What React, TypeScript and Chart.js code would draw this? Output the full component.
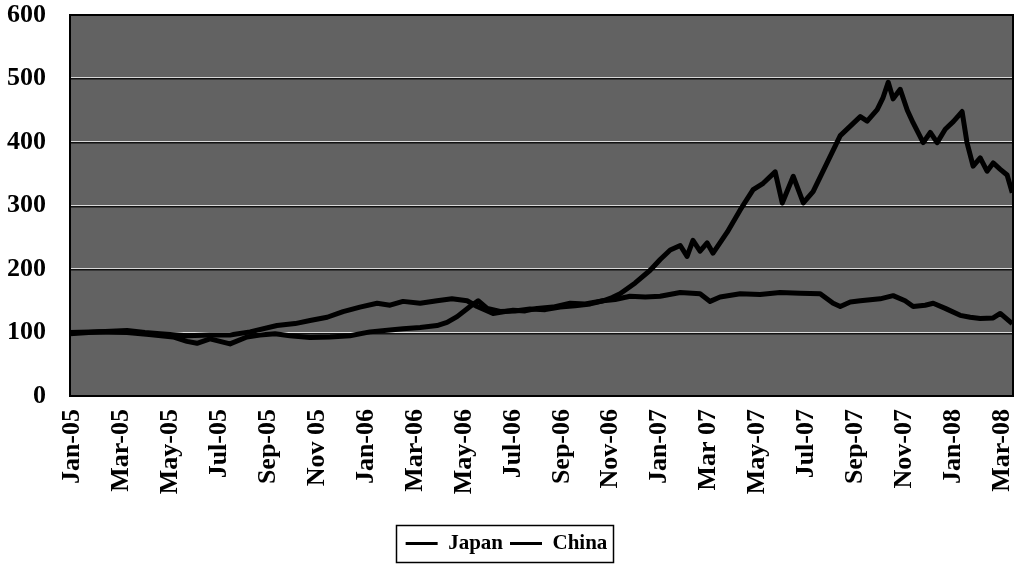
import React, { useEffect, useRef } from "react";
import { Chart, registerables } from "chart.js";

Chart.register(...registerables);

// x positions are months since Jan-05 (0 = Jan-05)
const tickMonths = [0, 2, 4, 6, 8, 10, 12, 14, 16, 18, 20, 22, 24, 26, 28, 30, 32, 34, 36, 38];
const tickLabels = [
  "Jan-05", "Mar-05", "May-05", "Jul-05", "Sep-05", "Nov 05", "Jan-06", "Mar-06", "May-06", "Jul-06",
  "Sep-06", "Nov-06", "Jan-07", "Mar 07", "May-07", "Jul-07", "Sep-07", "Nov-07", "Jan-08", "Mar-08",
];
const yTicks = [0, 100, 200, 300, 400, 500, 600];

const japanMonths = [
  -0.1, 1.12, 2.23, 2.96, 3.58, 4.68, 5.62, 6.44, 7.26, 8.36, 9.1, 9.71, 10.41, 11.06, 11.75, 12.45,
  12.98, 13.51, 14.21, 14.9, 15.51, 16.13, 16.54, 17.19, 17.68, 18.01, 18.5, 18.99, 19.64, 20.34, 20.95,
  21.69, 22.18, 22.79, 23.41, 24.02, 24.84, 25.65, 26.06, 26.47, 27.29, 28.1, 28.92, 29.74, 30.56, 31.09,
  31.38, 31.79, 32.2, 33.01, 33.54, 34.03, 34.36, 34.85, 35.18, 35.67, 36.28, 36.69, 37.1, 37.63, 37.92, 38.41,
];
const japanValues = [
  98, 101, 103, 100, 98, 95, 96, 96, 101, 111, 114, 119, 124, 133, 140, 146,
  143, 149, 146, 150, 153, 150, 141, 130, 133, 135, 134, 138, 140, 146, 145,
  150, 152, 157, 156, 157, 163, 161, 149, 156, 161, 160, 163, 162, 161, 146,
  141, 148, 150, 153, 158, 150, 141, 143, 146, 138, 127, 124, 122, 123, 130, 114,
];

const chinaMonths = [
  -0.1, 1.12, 2.23, 3.13, 4.11, 4.68, 5.09, 5.62, 6.03, 6.44, 7.13, 7.66, 8.28, 8.89, 9.71, 10.53,
  11.34, 12.16, 12.98, 13.51, 14.21, 14.9, 15.31, 15.72, 16.25, 16.58, 16.95, 17.48, 18.09, 18.7, 19.32,
  19.93, 20.54, 21.16, 21.69, 22.06, 22.38, 23.0, 23.61, 24.02, 24.43, 24.84, 25.12, 25.36, 25.65, 25.94,
  26.18, 26.76, 27.29, 27.82, 28.23, 28.72, 29.01, 29.46, 29.87, 30.27, 30.84, 31.38, 31.79, 32.2, 32.48,
  32.89, 33.13, 33.34, 33.54, 33.83, 34.12, 34.36, 34.77, 35.06, 35.34, 35.67, 36.0, 36.36, 36.56, 36.81,
  37.1, 37.38, 37.63, 37.92, 38.2, 38.41,
];
const chinaValues = [
  100, 101, 100, 97, 93, 86, 83, 90, 86, 82, 93, 96, 98, 95, 92, 93,
  95, 101, 104, 106, 108, 111, 116, 125, 141, 150, 138, 133, 134, 137, 136,
  140, 142, 145, 150, 155, 161, 178, 198, 215, 230, 237, 220, 245, 228, 241,
  225, 258, 293, 325, 335, 353, 304, 346, 304, 322, 367, 410, 425, 440, 433,
  451, 470, 494, 468, 483, 450, 430, 399, 415, 399, 420, 432, 448, 399, 362,
  375, 354, 367, 357, 348, 320,
];

const FONT = '"Liberation Serif", "Times New Roman", serif';

const plotDecor = {
  id: "plotDecor",
  beforeDraw(chart: any) {
    const { ctx, chartArea } = chart;
    const { left, top, right, bottom } = chartArea;
    ctx.save();
    ctx.fillStyle = "#626262";
    ctx.fillRect(left, top, right - left, bottom - top);
    const y = chart.scales.y;
    yTicks.forEach((v) => {
      if (v === 0 || v === 600) return;
      const py = Math.round(y.getPixelForValue(v));
      ctx.fillStyle = "#d8d8d8";
      ctx.fillRect(left, py - 1, right - left, 1);
      ctx.fillStyle = "#111111";
      ctx.fillRect(left, py, right - left, 1.5);
    });
    ctx.restore();
  },
  afterDraw(chart: any) {
    const { ctx, chartArea } = chart;
    const { left, top, right, bottom } = chartArea;
    ctx.save();
    ctx.strokeStyle = "#000";
    ctx.lineWidth = 2;
    ctx.strokeRect(left, top, right - left, bottom - top);
    const lg = chart.legend;
    if (lg && lg.legendHitBoxes && lg.legendHitBoxes.length) {
      const hb = lg.legendHitBoxes;
      const x0 = Math.min(...hb.map((h: any) => h.left)) - 10;
      const x1 = Math.max(...hb.map((h: any) => h.left + h.width)) + 5;
      const y0 = Math.min(...hb.map((h: any) => h.top)) - 8;
      const y1 = Math.max(...hb.map((h: any) => h.top + h.height)) + 8;
      ctx.lineWidth = 1.5;
      ctx.strokeRect(Math.round(x0) + 0.5, Math.round(y0) + 0.5, Math.round(x1 - x0), Math.round(y1 - y0));
    }
    ctx.restore();
  },
};

export default function App() {
  const ref = useRef<HTMLCanvasElement | null>(null);

  useEffect(() => {
    if (!ref.current) return;
    const chart = new Chart(ref.current, {
      type: "line",
      data: {
        datasets: [
          {
            label: "Japan",
            data: japanMonths.map((m, i) => ({ x: m, y: japanValues[i] })),
            borderColor: "#000",
            backgroundColor: "#000",
            borderWidth: 5,
            pointRadius: 0,
            tension: 0,
            borderJoinStyle: "round",
          },
          {
            label: "China",
            data: chinaMonths.map((m, i) => ({ x: m, y: chinaValues[i] })),
            borderColor: "#000",
            backgroundColor: "#000",
            borderWidth: 5,
            pointRadius: 0,
            tension: 0,
            borderJoinStyle: "round",
          },
        ],
      },
      options: {
        responsive: false,
        animation: false,
        layout: { padding: { top: 15, right: 3, bottom: 4, left: 0 } },
        plugins: {
          tooltip: { enabled: false },
          legend: {
            position: "bottom",
            labels: {
              boxWidth: 32,
              boxHeight: 3,
              padding: 7,
              color: "#000",
              font: { family: FONT, size: 21, weight: "bold" },
              generateLabels: (c: any) =>
                c.data.datasets.map((ds: any, i: number) => ({
                  text: ds.label,
                  fillStyle: "#000",
                  strokeStyle: "#000",
                  lineWidth: 0,
                  hidden: false,
                  datasetIndex: i,
                  fontColor: "#000",
                })),
            },
          },
        },
        scales: {
          x: {
            type: "linear",
            min: -0.1,
            max: 38.44,
            grid: { display: false, drawTicks: false },
            border: { display: false },
            afterBuildTicks: (scale: any) => {
              scale.ticks = tickMonths.map((v) => ({ value: v }));
            },
            afterFit: (scale: any) => {
              scale.height = 130;
              scale.paddingLeft = 0;
              scale.paddingRight = 0;
            },
            ticks: {
              autoSkip: false,
              maxRotation: 90,
              minRotation: 90,
              padding: 13,
              color: "#000",
              font: { family: FONT, size: 26, weight: "bold", lineHeight: 1 },
              callback: (value: any) => {
                const idx = tickMonths.indexOf(Number(value));
                return idx >= 0 ? tickLabels[idx] : "";
              },
            },
          },
          y: {
            min: 0,
            max: 600,
            grid: { display: false, drawTicks: false },
            border: { display: false },
            afterFit: (scale: any) => {
              scale.width = 70;
              scale.paddingTop = 0;
              scale.paddingBottom = 0;
            },
            ticks: {
              stepSize: 100,
              padding: 24,
              color: "#000",
              font: { family: FONT, size: 26, weight: "bold", lineHeight: 1 },
            },
          },
        },
      },
      plugins: [plotDecor],
    } as any);
    return () => chart.destroy();
  }, []);

  return (
    <div style={{ position: "fixed", left: 0, top: 0, width: 1016, height: 568, background: "#fff" }}>
      <canvas ref={ref} width={1016} height={568} />
    </div>
  );
}
